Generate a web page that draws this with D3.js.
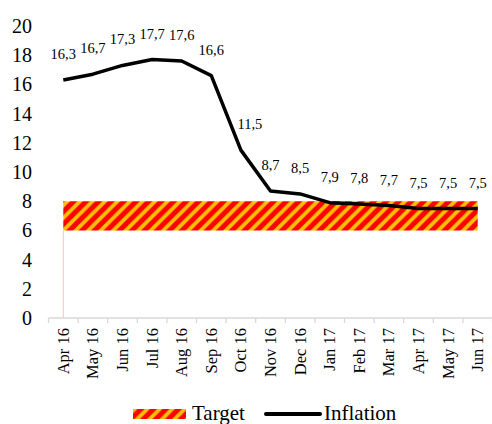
<!DOCTYPE html>
<html>
<head>
<meta charset="utf-8">
<script src="https://cdn.jsdelivr.net/npm/d3@7"></script>
<style>
  body { margin: 0; background: #fff; }
  svg { display: block; font-family: "Liberation Serif", "DejaVu Serif", serif; }
</style>
</head>
<body>
<div id="chart"></div>
<script>
// Inflation vs target band, Apr 2016 - Jun 2017
const months = ["Apr 16", "May 16", "Jun 16", "Jul 16", "Aug 16", "Sep 16", "Oct 16",
  "Nov 16", "Dec 16", "Jan 17", "Feb 17", "Mar 17", "Apr 17", "May 17", "Jun 17"];
const inflation = [16.3, 16.7, 17.3, 17.7, 17.6, 16.6, 11.5, 8.7, 8.5, 7.9, 7.8, 7.7, 7.5, 7.5, 7.5];
const targetLow = [6, 6, 6, 6, 6, 6, 6, 6, 6, 6, 6, 6, 6, 6, 6];
const targetHigh = [8, 8, 8, 8, 8, 8, 8, 8, 8, 8, 8, 8, 8, 8, 8];
const yTicks = [0, 2, 4, 6, 8, 10, 12, 14, 16, 18, 20];

const width = 492, height = 424;
const svg = d3.select("#chart").append("svg")
  .attr("width", width).attr("height", height);

const x = d3.scaleBand().domain(months).range([48.5, 48.5 + 15 * 29.6]);
const cx = (m) => x(m) + x.bandwidth() / 2;
const y = d3.scaleLinear().domain([0, 20]).range([318, 26]);

// striped fill for the target band
const t = 12.5;
const pat = svg.append("defs").append("pattern")
  .attr("id", "stripes")
  .attr("patternUnits", "userSpaceOnUse")
  .attr("width", t).attr("height", t);
pat.append("rect").attr("width", t).attr("height", t).attr("fill", "#ffc000");
pat.append("path")
  .attr("d", `M0,${t}L${t},0M-4,4L4,-4M${t - 4},${t + 4}L${t + 4},${t - 4}`)
  .attr("stroke", "#ff0000").attr("stroke-width", 5);

const band = months.map((m, i) => ({ m, lo: targetLow[i], hi: targetHigh[i] }));

// faint edge of the lower stacked series
svg.append("line")
  .attr("x1", cx(months[0])).attr("x2", cx(months[0]))
  .attr("y1", y(0)).attr("y2", y(targetLow[0]))
  .attr("stroke", "#f7c6c0").attr("stroke-width", 1);

svg.append("path")
  .datum(band)
  .attr("fill", "url(#stripes)")
  .attr("d", d3.area().x((d) => cx(d.m)).y0((d) => y(d.lo)).y1((d) => y(d.hi)));

// x axis
const xAxis = svg.append("g").attr("transform", `translate(0,${y(0)})`);
xAxis.append("line")
  .attr("x1", x.range()[0]).attr("x2", x.range()[1])
  .attr("stroke", "#d9d9d9").attr("stroke-width", 1.3);
const edges = months.map((m) => x(m)).concat([x.range()[1]]);
xAxis.selectAll(".tk").data(edges).join("line")
  .attr("x1", (d) => d).attr("x2", (d) => d)
  .attr("y1", 0).attr("y2", 5)
  .attr("stroke", "#d9d9d9").attr("stroke-width", 1.3);
xAxis.selectAll(".lbl").data(months).join("text")
  .attr("transform", (d) => `translate(${cx(d)},10) rotate(-90)`)
  .attr("text-anchor", "end")
  .attr("dominant-baseline", "central")
  .attr("font-size", 16.5)
  .attr("fill", "#000")
  .text((d) => d);

// y labels
svg.append("g").selectAll("text").data(yTicks).join("text")
  .attr("x", 32).attr("y", (d) => y(d))
  .attr("text-anchor", "end")
  .attr("dominant-baseline", "central")
  .attr("font-size", 20)
  .attr("fill", "#000")
  .text((d) => d);

// inflation line
svg.append("path")
  .datum(inflation)
  .attr("fill", "none")
  .attr("stroke", "#000")
  .attr("stroke-width", 3.5)
  .attr("stroke-linejoin", "round")
  .attr("d", d3.line().x((d, i) => cx(months[i])).y((d) => y(d)));

// data labels
const fmt = (v) => d3.format(".1f")(v).replace(".", ",");
svg.append("g").selectAll("text").data(inflation).join("text")
  .attr("x", (d, i) => cx(months[i]) + (i > 0 && inflation[i - 1] - d > 3 ? 9 : 0))
  .attr("y", (d) => y(d) - 21)
  .attr("text-anchor", "middle")
  .attr("font-size", 14.5)
  .attr("fill", "#000")
  .text(fmt);

// legend
const lg = svg.append("g");
lg.append("rect").attr("x", 133).attr("y", 409).attr("width", 53).attr("height", 10)
  .attr("fill", "url(#stripes)");
lg.append("text").attr("x", 192).attr("y", 420).attr("font-size", 21).text("Target");
lg.append("line").attr("x1", 266).attr("x2", 320).attr("y1", 414).attr("y2", 414)
  .attr("stroke", "#000").attr("stroke-width", 4).attr("stroke-linecap", "round");
lg.append("text").attr("x", 324).attr("y", 420).attr("font-size", 21).text("Inflation");
</script>
</body>
</html>
